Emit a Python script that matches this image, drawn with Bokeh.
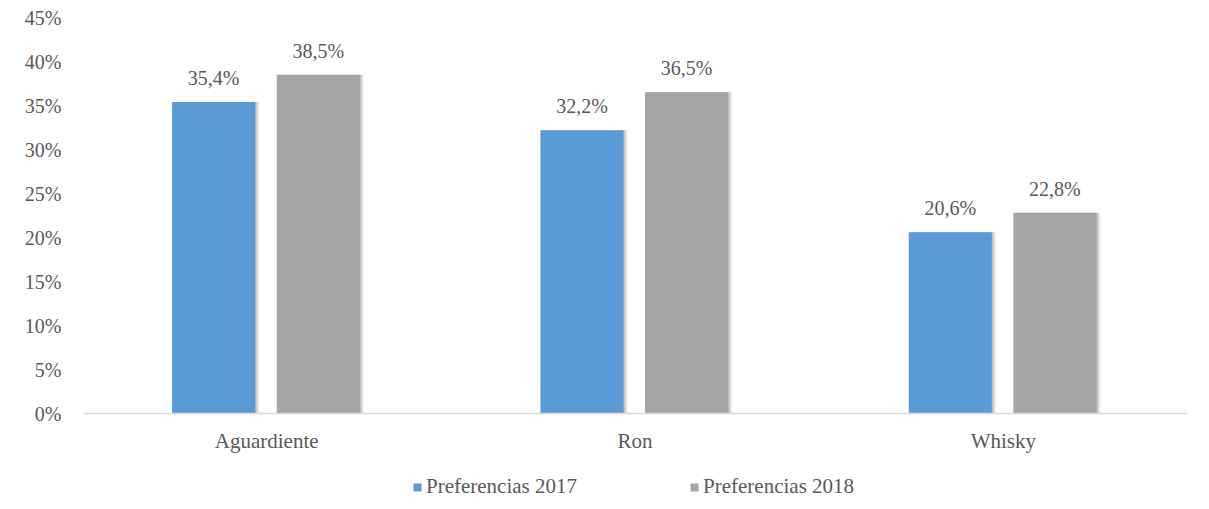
from bokeh.plotting import figure
from bokeh.models import ColumnDataSource, FactorRange, NumeralTickFormatter, Legend, LegendItem, Span
from bokeh.transform import dodge
from bokeh.core.properties import value
from bokeh.embed import file_html
from bokeh.resources import INLINE

categories = ["Aguardiente", "Ron", "Whisky"]
pref_2017 = [0.354, 0.322, 0.206]
pref_2018 = [0.385, 0.365, 0.228]
series_names = ["Preferencias 2017", "Preferencias 2018"]
colors = ["#5B9BD5", "#A5A5A5"]
y_ticks = [0, 0.05, 0.10, 0.15, 0.20, 0.25, 0.30, 0.35, 0.40, 0.45]

FONT = "Liberation Serif"
TXT = "#595959"
FS = "20px"

def fmt(v):
    return ("%.1f%%" % (v * 100)).replace(".", ",")

src = ColumnDataSource(dict(
    cat=categories,
    v17=pref_2017,
    v18=pref_2018,
    l17=[fmt(v) for v in pref_2017],
    l18=[fmt(v) for v in pref_2018],
    zero=[0.0] * len(categories),
))

# frame extends below the zero line down to the bottom edge (room for category labels + legend)
Y_TOP = 0.45
Y_BOTTOM = -0.45 / 396.0 * 96.0

p = figure(x_range=FactorRange(*categories), y_range=(Y_BOTTOM, Y_TOP),
           width=1209, height=509, output_backend="svg", toolbar_location=None,
           min_border_left=82, min_border_right=22, min_border_top=17, min_border_bottom=0)
p.outline_line_color = None
p.xgrid.grid_line_color = None
p.ygrid.grid_line_color = None
p.background_fill_color = "white"
p.border_fill_color = "white"
p.xaxis.visible = False

W = 0.2255
OFF17 = -0.144
OFF18 = 0.140
px = 1.0 / 368.0

# soft shadows
for k, a in [(1, 0.10), (2, 0.08), (3, 0.06), (4, 0.04), (5, 0.025)]:
    for off, col in [(OFF17, "v17"), (OFF18, "v18")]:
        p.vbar(x=dodge("cat", off + k * px, range=p.x_range), top=col, bottom=0, width=W,
               source=src, fill_color="black", fill_alpha=a, line_color=None)

r17 = p.vbar(x=dodge("cat", OFF17, range=p.x_range), top="v17", bottom=0, width=W, source=src,
             fill_color=colors[0], line_color=None)
r18 = p.vbar(x=dodge("cat", OFF18, range=p.x_range), top="v18", bottom=0, width=W, source=src,
             fill_color=colors[1], line_color=None)

# category axis line
p.add_layout(Span(location=0, dimension="width", line_color="#D9D9D9", line_width=1.5))

# category labels
p.text(x="cat", y="zero", text="cat", source=src, text_align="center", text_baseline="middle",
       y_offset=27, text_font=value(FONT), text_font_size="21px", text_color=TXT)

# data labels
for off, col, lab in [(OFF17, "v17", "l17"), (OFF18, "v18", "l18")]:
    p.text(x=dodge("cat", off, range=p.x_range), y=col, text=lab, source=src,
           text_align="center", text_baseline="bottom", y_offset=-13,
           text_font=value(FONT), text_font_size=FS, text_color=TXT)

p.yaxis.formatter = NumeralTickFormatter(format="0%")
p.yaxis.ticker = y_ticks
p.yaxis.axis_line_color = None
p.yaxis.major_tick_line_color = None
p.yaxis.minor_tick_line_color = None
p.yaxis.major_label_standoff = 15
p.yaxis.major_label_text_font = FONT
p.yaxis.major_label_text_font_size = FS
p.yaxis.major_label_text_color = TXT

legend = Legend(items=[LegendItem(label=series_names[0], renderers=[r17]),
                       LegendItem(label=series_names[1], renderers=[r18])],
                orientation="horizontal", location=(330, 10),
                glyph_width=10, glyph_height=10, label_standoff=4, spacing=112,
                padding=0, margin=0, border_line_color=None, background_fill_alpha=0,
                label_text_font=FONT, label_text_font_size="21px", label_text_color=TXT)
p.add_layout(legend, "center")

open("out.html", "w").write(file_html(p, INLINE))
